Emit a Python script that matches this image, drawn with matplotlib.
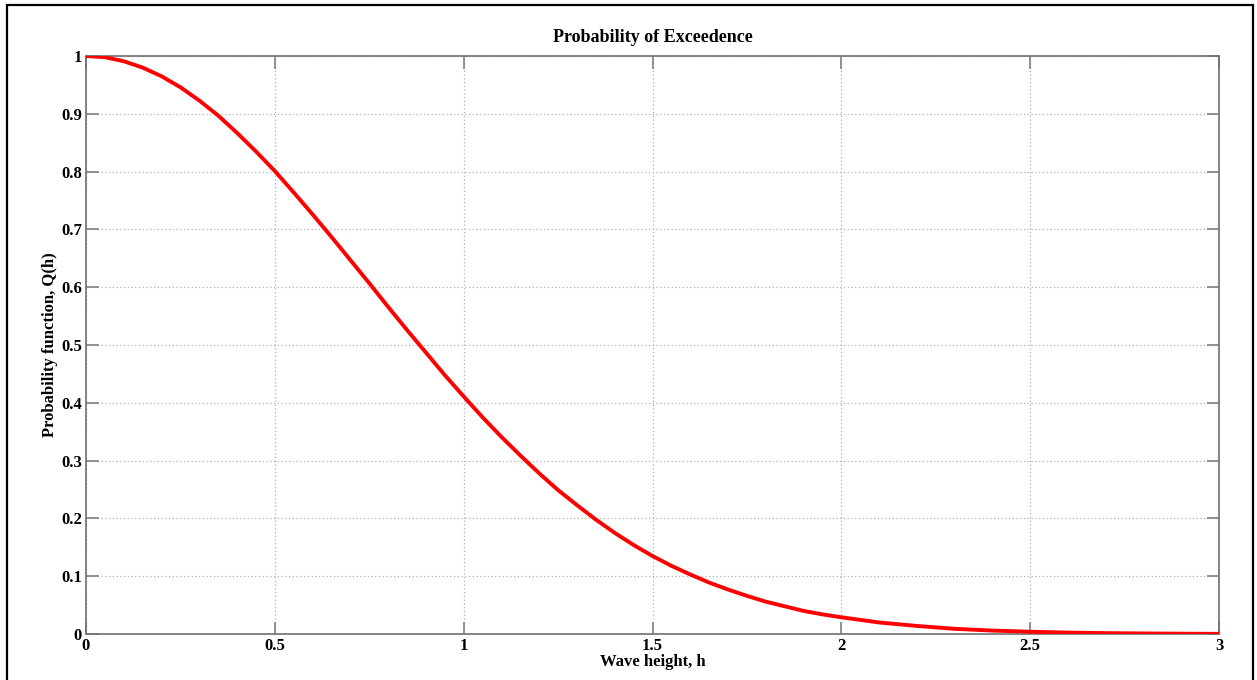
import matplotlib
matplotlib.use('Agg')
import matplotlib.pyplot as plt
from matplotlib.patches import Rectangle

# wave height h and exceedance probability Q(h)
h = [0.0, 0.05, 0.1, 0.15, 0.2, 0.25, 0.3, 0.35, 0.4, 0.45, 0.5,
     0.55, 0.6, 0.65, 0.7, 0.75, 0.8, 0.85, 0.9, 0.95, 1.0,
     1.05, 1.1, 1.15, 1.2, 1.25, 1.3, 1.35, 1.4, 1.45, 1.5,
     1.55, 1.6, 1.65, 1.7, 1.75, 1.8, 1.85, 1.9, 1.95, 2.0,
     2.1, 2.2, 2.3, 2.4, 2.5, 2.6, 2.7, 2.8, 2.9, 3.0]
q = [1.000, 0.998, 0.991, 0.980, 0.965, 0.946, 0.923, 0.897, 0.867, 0.835, 0.801,
     0.764, 0.726, 0.687, 0.647, 0.607, 0.566, 0.526, 0.487, 0.448, 0.411,
     0.375, 0.341, 0.309, 0.278, 0.249, 0.223, 0.198, 0.175, 0.154, 0.135,
     0.118, 0.103, 0.089, 0.077, 0.066, 0.056, 0.048, 0.040, 0.034, 0.029,
     0.020, 0.014, 0.009, 0.006, 0.004, 0.0025, 0.0015, 0.0010, 0.0006, 0.0003]

xticks = [0, 0.5, 1, 1.5, 2, 2.5, 3]
xlabels = ['0', '0.5', '1', '1.5', '2', '2.5', '3']
yticks = [0, 0.1, 0.2, 0.3, 0.4, 0.5, 0.6, 0.7, 0.8, 0.9, 1]
ylabels = ['0', '0.1', '0.2', '0.3', '0.4', '0.5', '0.6', '0.7', '0.8', '0.9', '1']

plt.rcParams['font.family'] = ['Liberation Serif', 'DejaVu Serif']
plt.rcParams['font.weight'] = 'bold'

fig = plt.figure(figsize=(12.57, 6.8), dpi=100)
ax = fig.add_axes([0.0684, 0.0676, 0.9014, 0.85])

ax.plot(h, q, color='#ff0000', lw=2.8, solid_joinstyle='round', zorder=3)

ax.set_xlim(0, 3)
ax.set_ylim(0, 1)
ax.set_xticks(xticks)
ax.set_xticklabels(xlabels)
ax.set_yticks(yticks)
ax.set_yticklabels(ylabels)
ax.grid(True, color='#b0b0b0', ls=(0, (1, 2)), lw=0.9)

for s in ax.spines.values():
    s.set_color('#707070')
    s.set_linewidth(1.2)
ax.tick_params(direction='in', length=9, width=1.2, color='#808080',
               top=True, right=True, labelsize=12, pad=3)

ax.set_title('Probability of Exceedence', fontsize=13, fontweight='bold', pad=10)
ax.set_xlabel('Wave height, h', fontsize=12, fontweight='bold', labelpad=0)
ax.set_ylabel('Probability function, Q(h)', fontsize=12, fontweight='bold', labelpad=2)

# outer frame around the figure
fig.patches.append(Rectangle((7 / 1257, -0.02), 1246 / 1257, 1.02 - 5 / 680,
                             transform=fig.transFigure, fill=False,
                             edgecolor='black', lw=1.6))

fig.savefig('out.png', dpi=100)
